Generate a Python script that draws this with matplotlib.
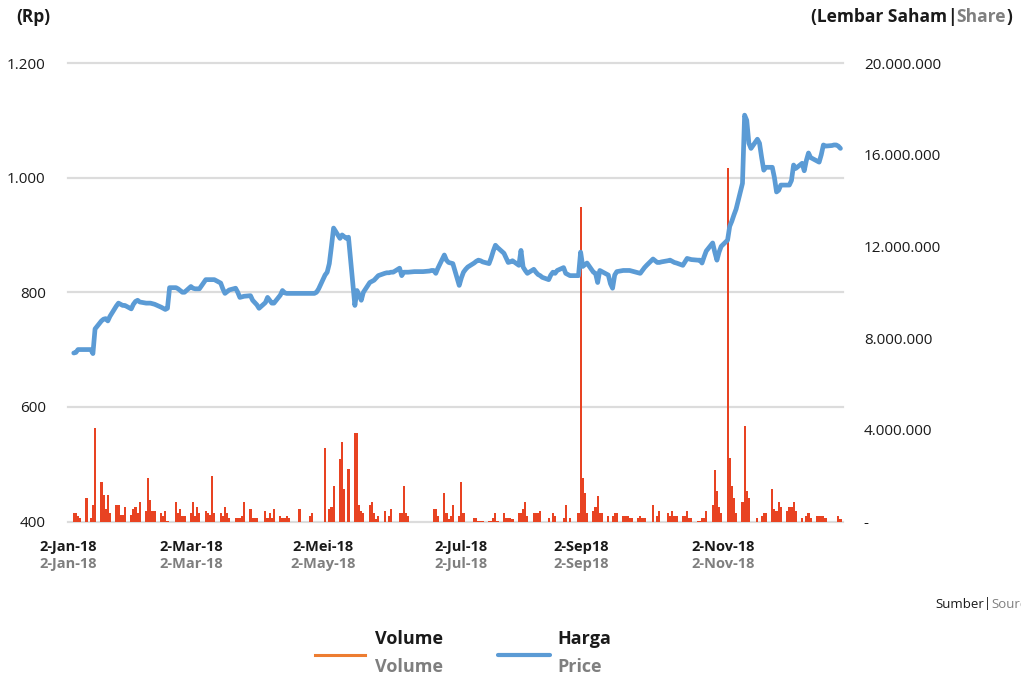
import matplotlib
matplotlib.use('Agg')
import matplotlib.pyplot as plt
import pandas as pd
from matplotlib.lines import Line2D

plt.rcParams['font.family'] = ['Open Sans', 'DejaVu Sans']

# trading days (weekdays) 2 Jan - 28 Dec 2018
dates = pd.bdate_range('2018-01-02', '2018-12-28')

# closing price (Rp), one row per week
price = [
    694, 695, 700, 700,
    700, 700, 700, 693, 736,
    750, 753, 754, 750, 758,
    776, 781, 779, 777, 777,
    771, 779, 784, 786, 783,
    781, 781, 781, 780, 779,
    774, 772, 770, 772, 808,
    808, 806, 803, 800, 800,
    810, 807, 806, 806, 806,
    822, 822, 822, 822, 822,
    816, 806, 798, 801, 804,
    807, 800, 791, 792, 793,
    794, 786, 782, 778, 772,
    782, 791, 786, 781, 781,
    795, 803, 799, 798, 798,
    798, 798, 798, 798, 798,
    798, 798, 798, 800, 806,
    830, 835, 850, 880, 912,
    894, 900, 897, 894, 896,
    777, 803, 795, 786, 800,
    817, 819, 821, 825, 829,
    833, 834, 834, 835, 835,
    842, 829, 835, 835, 835,
    836, 836, 836, 836, 836,
    837, 838, 838, 833, 842,
    865, 856, 852, 851, 850,
    812, 825, 835, 840, 844,
    851, 854, 856, 855, 853,
    850, 860, 872, 882, 878,
    868, 860, 852, 853, 855,
    847, 873, 844, 838, 833,
    840, 835, 831, 829, 826,
    822, 830, 835, 833, 838,
    843, 833, 831, 829, 829,
    829, 870, 845, 848, 851,
    835, 833, 817, 838, 836,
    830, 815, 807, 830, 836,
    838, 838, 838, 838, 837,
    834, 833, 838, 843, 847,
    858, 855, 852, 852, 853,
    855, 856, 854, 852, 851,
    847, 853, 859, 858, 857,
    856, 856, 851, 862, 872,
    886, 870, 856, 870, 880,
    891, 915, 924, 935, 945,
    990, 1109, 1100, 1060, 1051,
    1067, 1060, 1035, 1013, 1018,
    1018, 1000, 975, 978, 987,
    987, 987, 995, 1022, 1016,
    1025, 1012, 1030, 1043, 1035,
    1029, 1027, 1040, 1057, 1055,
    1056, 1057, 1057, 1055, 1051,
]

# traded volume, millions of shares, one row per week
volume_mn = [
    .35, .35, .25, .15,
    1.04, 0, .14, .74, 4.07,
    1.71, 1.14, .56, 1.14, .35,
    .74, .74, .30, .28, .63,
    .28, .56, .63, .35, .84,
    .46, 1.91, .95, .46, .46,
    .35, .25, .46, .04, 0,
    .84, .35, .56, .25, .25,
    .35, .84, .25, .63, .35,
    .46, .35, .30, 2.0, .35,
    .35, .25, .63, .35, .14,
    .14, .14, .14, .25, .84,
    .53, .14, .14, .14, 0,
    .46, .14, .35, .14, .53,
    .25, .14, .14, .25, .14,
    0, 0, .53, 0, 0,
    .25, .35, 0, 0, 0,
    3.19, 0, .53, .63, 1.53,
    2.72, 3.48, 1.43, 0, 2.3,
    3.87, 3.87, .74, .46, .35,
    .74, .84, .35, .10, .25,
    .46, 0, .25, .53, 0,
    .35, .35, 1.53, .35, .25,
    0, 0, 0, 0, 0,
    0, 0, .53, .53, .25,
    1.23, .35, .10, .25, .74,
    .25, 1.71, .35, 0, 0,
    .14, .14, .04, .04, .04,
    .04, .04, .14, .35, .04,
    .35, .14, .14, .14, .10,
    .35, .35, .53, .84, .25,
    .35, .35, .35, .46, 0,
    .14, 0, .35, .25, 0,
    .14, .74, 0, .14, 0,
    .35, 13.7, 1.91, 1.23, .35,
    .46, .63, 1.11, .35, .35,
    .25, 0, .25, .35, .35,
    .25, .25, .25, .14, .14,
    .14, .25, .14, .14, 0,
    .74, 0, .25, .46, 0,
    .35, .25, .46, .25, .25,
    .25, .25, .46, .14, .14,
    .04, .04, .14, .14, .46,
    .74, 2.23, 1.32, .65, .35,
    15.4, 2.79, 1.53, 1.04, .35,
    .84, 4.18, 1.32, 1.04, 0,
    .14, 0, .25, .35, .35,
    1.43, .56, .46, .84, .63,
    .46, .63, .63, .84, .46,
    .14, 0, .25, .35, .14,
    .25, .25, .25, .25, .14,
    0, 0, 0, .25, .10,
]
volume = [v * 1e6 for v in volume_mn]

price_ticks = [400, 600, 800, 1000, 1200]
price_labels = ['400', '600', '800', '1.000', '1.200']
vol_ticks = [0, 4e6, 8e6, 12e6, 16e6, 20e6]
vol_labels = ['-', '4.000.000', '8.000.000', '12.000.000', '16.000.000', '20.000.000']
grid_vol = [0, 5e6, 10e6, 15e6, 20e6]   # same heights as the price ticks

date_labels_id = ['2-Jan-18', '2-Mar-18', '2-Mei-18', '2-Jul-18', '2-Sep18', '2-Nov-18']
date_labels_en = ['2-Jan-18', '2-Mar-18', '2-May-18', '2-Jul-18', '2-Sep18', '2-Nov-18']
date_label_px = [68, 191, 323, 461, 581, 723]

BLACK = '#1a1a1a'
GREY = '#7f7f7f'
BLUE = '#5b9bd5'
RED = '#e84322'
ORANGE = '#ed7d31'

W, H = 1021, 680
fig = plt.figure(figsize=(W / 100, H / 100), dpi=100)

def fx(px):
    return px / W

def fy(py):
    return 1 - py / H

# volume axes (bottom layer, holds the grid)
axv = fig.add_axes([fx(68), fy(521.5), 775 / W, 458.5 / H])
for g in grid_vol:
    axv.axhline(g, color='#dcdcdc', linewidth=1.6, zorder=0, clip_on=False)
axv.bar(dates, volume, width=1.0, color=RED, linewidth=0, zorder=2)
axv.set_ylim(0, 20e6)

start = dates[0] - pd.Timedelta(days=2.7)
end = dates[0] + pd.Timedelta(days=361.2)
axv.set_xlim(start, end)
axv.set_xticks([])

# price axes on top
axp = axv.twinx()
axp.plot(dates, price, color=BLUE, linewidth=3.4, solid_joinstyle='round',
         solid_capstyle='round', zorder=3)
axp.set_ylim(400, 1200)
axp.set_yticks(price_ticks)
axp.set_yticklabels(price_labels)
axp.yaxis.tick_left()
axp.tick_params(axis='y', length=0, pad=16, labelsize=11, labelcolor=BLACK)
axp.set_xlim(start, end)
axp.set_xticks([])

# volume ticks on the right (set after twinx, which moves them left)
axv.yaxis.tick_right()
axv.set_yticks(vol_ticks)
axv.set_yticklabels(vol_labels)
axv.tick_params(axis='y', length=0, pad=15, labelsize=11, labelcolor=BLACK,
                left=False, labelleft=False, right=False, labelright=True)

for a in (axv, axp):
    for s in a.spines.values():
        s.set_visible(False)

# x labels, Indonesian on top, English below
for xp, t1, t2 in zip(date_label_px, date_labels_id, date_labels_en):
    fig.text(fx(xp), fy(547), t1, ha='center', va='center', fontsize=10.5,
             fontweight='bold', color=BLACK)
    fig.text(fx(xp), fy(564), t2, ha='center', va='center', fontsize=10.5,
             fontweight='bold', color=GREY)

renderer = fig.canvas.get_renderer()

def rich_text(x_px, y_px, parts, ha='left', size=12):
    texts = []
    for s, c, w in parts:
        texts.append(fig.text(0, fy(y_px), s, color=c, fontweight=w,
                              fontsize=size, va='center', ha='left'))
    widths = [t.get_window_extent(renderer).width for t in texts]
    x = x_px if ha == 'left' else x_px - sum(widths)
    for t, wd in zip(texts, widths):
        t.set_x(fx(x))
        x += wd

fig.text(fx(16), fy(17), '(Rp)', fontsize=12.5, fontweight='bold', color=BLACK,
         va='center', ha='left')
rich_text(1012, 17, [('(Lembar Saham', BLACK, 'bold'), ('|', BLACK, 'bold'),
                     ('Share', GREY, 'bold'), (')', BLACK, 'bold')],
          ha='right', size=12.5)
rich_text(935, 604, [('Sumber', BLACK, 'normal'), ('|', BLACK, 'normal'),
                     ('Source', GREY, 'normal')], size=9.5)

# legend
fig.add_artist(Line2D([fx(315), fx(365)], [fy(655), fy(655)], color=ORANGE, linewidth=2.2))
fig.add_artist(Line2D([fx(498), fx(550)], [fy(655), fy(655)], color=BLUE, linewidth=3.0,
                      solid_capstyle='round'))
fig.text(fx(375), fy(639), 'Volume', fontsize=13, fontweight='bold', color=BLACK, va='center')
fig.text(fx(375), fy(667), 'Volume', fontsize=13, fontweight='bold', color=GREY, va='center')
fig.text(fx(557), fy(639), 'Harga', fontsize=13, fontweight='bold', color=BLACK, va='center')
fig.text(fx(557), fy(667), 'Price', fontsize=13, fontweight='bold', color=GREY, va='center')

fig.savefig('out.png', dpi=100)
